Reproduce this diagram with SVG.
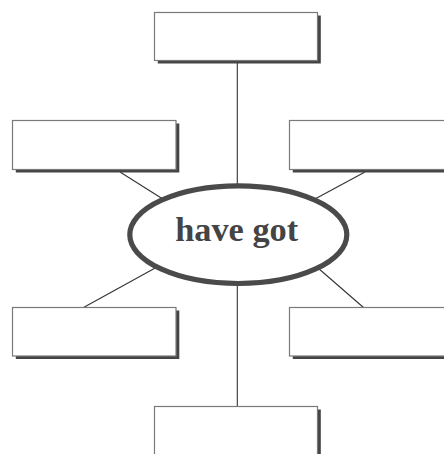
<svg xmlns="http://www.w3.org/2000/svg" width="444" height="454" viewBox="0 0 444 454">
<style>
.shadow{fill:#444;}
.box{fill:#fff;stroke:#7a7a7a;stroke-width:1.2;}
.conn{stroke:#333;stroke-width:1.1;fill:none;}
.hub{fill:#fff;stroke:#4a4a4a;stroke-width:5.2;}
.label{font-family:"Liberation Serif",serif;font-weight:bold;font-size:33px;fill:#444;}
</style>
<rect width="444" height="454" fill="#fff"/>
<g id="connectors">
<line class="conn" x1="237.3" y1="60" x2="237.3" y2="186"/>
<line class="conn" x1="237.3" y1="283" x2="237.3" y2="407"/>
<line class="conn" x1="120" y1="172" x2="162" y2="198.5"/>
<line class="conn" x1="365" y1="172" x2="314" y2="199.5"/>
<line class="conn" x1="83.5" y1="307.5" x2="157" y2="267"/>
<line class="conn" x1="363.5" y1="307.5" x2="318" y2="268"/>
</g>
<g id="node-top">
<rect class="shadow" x="157.8" y="15.5" width="163" height="48"/>
<rect class="box" x="154.5" y="12.5" width="163" height="48"/>
</g>
<g id="node-top-left">
<rect class="shadow" x="15.8" y="123.5" width="163.5" height="49"/>
<rect class="box" x="12.5" y="120.5" width="163.5" height="49"/>
</g>
<g id="node-top-right">
<rect class="shadow" x="292.8" y="123.5" width="170" height="49"/>
<rect class="box" x="289.5" y="120.5" width="170" height="49"/>
</g>
<g id="node-bottom-left">
<rect class="shadow" x="15.8" y="310.5" width="163.5" height="48.5"/>
<rect class="box" x="12.5" y="307.5" width="163.5" height="48.5"/>
</g>
<g id="node-bottom-right">
<rect class="shadow" x="292.8" y="310.5" width="170" height="48.5"/>
<rect class="box" x="289.5" y="307.5" width="170" height="48.5"/>
</g>
<g id="node-bottom">
<rect class="shadow" x="157.8" y="409.5" width="163" height="60"/>
<rect class="box" x="154.5" y="406.5" width="163" height="60"/>
</g>
<g id="node-center">
<ellipse class="hub" cx="238.3" cy="234.7" rx="108.5" ry="48.8"/>
<text class="label" x="236.7" y="241" text-anchor="middle" textLength="123" lengthAdjust="spacingAndGlyphs">have got</text>
</g>
</svg>
